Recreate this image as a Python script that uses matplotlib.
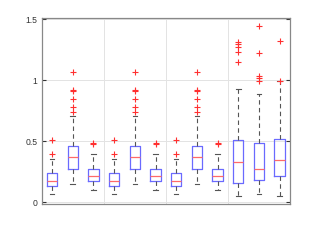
import matplotlib
matplotlib.use("Agg")
import matplotlib.pyplot as plt

plt.rcParams['font.family'] = ['Liberation Sans', 'DejaVu Sans']

positions = list(range(1, 13))
q1 = [0.134, 0.276, 0.177, 0.134, 0.276, 0.177, 0.134, 0.276, 0.177, 0.156, 0.180, 0.213]
med = [0.172, 0.369, 0.216, 0.172, 0.369, 0.216, 0.172, 0.369, 0.216, 0.328, 0.270, 0.347]
q3 = [0.238, 0.461, 0.270, 0.238, 0.461, 0.270, 0.238, 0.461, 0.270, 0.508, 0.489, 0.521]
whislo = [0.070, 0.148, 0.100, 0.070, 0.148, 0.100, 0.070, 0.148, 0.100, 0.054, 0.066, 0.049]
whishi = [0.355, 0.710, 0.400, 0.355, 0.710, 0.400, 0.355, 0.710, 0.400, 0.926, 0.890, 0.994]
fliers = [
    [0.508, 0.400],
    [1.07, 0.92, 0.91, 0.845, 0.785, 0.74],
    [0.485, 0.480],
    [0.508, 0.400],
    [1.07, 0.92, 0.91, 0.845, 0.785, 0.74],
    [0.485, 0.480],
    [0.508, 0.400],
    [1.07, 0.92, 0.91, 0.845, 0.785, 0.74],
    [0.485, 0.480],
    [1.316, 1.30, 1.273, 1.234, 1.148],
    [1.443, 1.224, 1.033, 1.02, 0.997],
    [1.325, 0.994],
]
yticks = [0, 0.5, 1, 1.5]
ytick_labels = ["0", "0.5", "1", "1.5"]
group_edges = [3.5, 6.5, 9.5]

stats = []
for i in range(len(positions)):
    stats.append(dict(q1=q1[i], med=med[i], q3=q3[i], whislo=whislo[i],
                      whishi=whishi[i], fliers=fliers[i]))

fig = plt.figure(figsize=(3.21, 2.41), dpi=100)
ax = fig.add_axes([41.7 / 321, 1 - 204.3 / 241, (290 - 41.7) / 321, (204.3 - 17.7) / 241])

ax.bxp(stats, positions=positions, widths=0.5,
       boxprops=dict(color="#6a6aff", linewidth=0.9),
       medianprops=dict(color="#ff6a6a", linewidth=0.9),
       whiskerprops=dict(color="#555555", linestyle=(0, (4, 3)), linewidth=0.8),
       capprops=dict(color="#555555", linewidth=0.8),
       flierprops=dict(marker="+", markeredgecolor="#ff3030", markersize=5,
                       markeredgewidth=0.8, linestyle="none"),
       capwidths=0.22)

ax.set_xlim(0.5, 12.5)
ax.set_ylim(-0.016, 1.513)
ax.set_yticks(yticks)
ax.set_yticklabels(ytick_labels)
ax.set_xticks(group_edges)
ax.set_xticklabels([])
ax.tick_params(axis="x", length=0)
ax.tick_params(axis="y", direction="in", length=3, labelsize=6.2, colors="#333333",
               right=True, pad=3)
ax.grid(True, color="#e3e3e3", linewidth=0.7)
ax.set_axisbelow(True)
for s in ax.spines.values():
    s.set_color("#888888")
    s.set_linewidth(0.9)

fig.savefig("out.png", dpi=100)
